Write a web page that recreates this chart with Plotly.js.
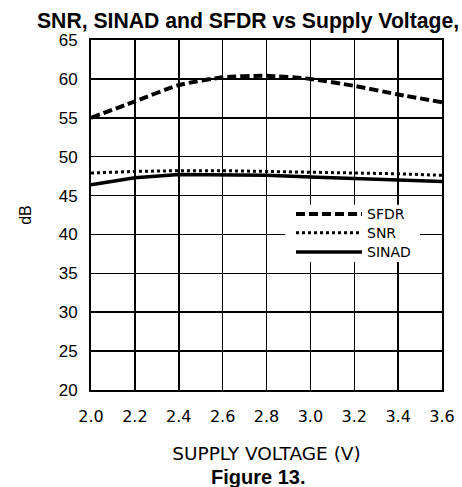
<!DOCTYPE html>
<html>
<head>
<meta charset="utf-8">
<script src="https://cdn.plot.ly/plotly-3.0.1.min.js"></script>
<style>html,body{margin:0;padding:0;background:#fff;}#chart{width:462px;height:487px;}</style>
</head>
<body>
<div id="chart"></div>
<script>
var supplyVoltage = [2.0, 2.2, 2.4, 2.6, 2.8, 3.0, 3.2, 3.4, 3.6];
var sfdr  = [55.0, 57.1, 59.2, 60.2, 60.4, 60.0, 59.1, 58.0, 57.0];
var snr   = [47.9, 48.1, 48.2, 48.2, 48.1, 48.0, 47.9, 47.8, 47.6];
var sinad = [46.4, 47.3, 47.7, 47.7, 47.6, 47.4, 47.2, 47.0, 46.8];
var seriesNames = ['SFDR', 'SNR', 'SINAD'];
var xTickVals = [2.0, 2.2, 2.4, 2.6, 2.8, 3.0, 3.2, 3.4, 3.6];
var xTickText = ['2.0', '2.2', '2.4', '2.6', '2.8', '3.0', '3.2', '3.4', '3.6'];
var yTickVals = [20, 25, 30, 35, 40, 45, 50, 55, 60, 65];

var cadFont = 'DejaVu Sans, sans-serif';
var arial = 'Liberation Sans, Arial, sans-serif';

var lineStyles = [
  {color: '#000', width: 4, dash: '9px,4px'},
  {color: '#000', width: 3, dash: '3px,3px'},
  {color: '#000', width: 3.5, dash: 'solid'}
];
var seriesData = [sfdr, snr, sinad];

var traces = seriesData.map(function (ys, i) {
  var ln = Object.assign({}, lineStyles[i]);
  if (i === 0) { ln.shape = 'spline'; ln.smoothing = 0.6; }
  return {x: supplyVoltage, y: ys, name: seriesNames[i], mode: 'lines', line: ln, showlegend: false};
});

// custom legend box (inside plot, covering grid lines)
var shapes = [{type: 'rect', xref: 'paper', yref: 'paper', x0: 0.553, x1: 0.937, y0: 0.366, y1: 0.529,
               fillcolor: '#fff', line: {width: 0}, layer: 'above'}];
var annotations = [];
var rowY = [0.503, 0.449, 0.394];
seriesNames.forEach(function (nm, i) {
  shapes.push({type: 'line', xref: 'paper', yref: 'paper', x0: 0.584, x1: 0.772, y0: rowY[i], y1: rowY[i],
               line: lineStyles[i], layer: 'above'});
  annotations.push({text: nm, xref: 'paper', yref: 'paper', x: 0.783, y: rowY[i], xanchor: 'left', yanchor: 'middle',
                    showarrow: false, borderpad: 0, font: {family: cadFont, size: 14, color: '#000'}});
});
annotations.push({text: '<b>Figure 13.</b>', xref: 'paper', yref: 'paper', x: 0.476, y: -0.249,
                  xanchor: 'center', yanchor: 'middle', showarrow: false,
                  font: {family: arial, size: 20, color: '#000'}});

var layout = {
  width: 462, height: 487,
  margin: {l: 91, r: 20, t: 40, b: 97},
  paper_bgcolor: '#fff', plot_bgcolor: '#fff',
  showlegend: false,
  title: {text: 'SNR, SINAD and SFDR vs Supply Voltage,', font: {family: arial, size: 21.2, color: '#000', weight: 'bold'},
          x: 0.08, xanchor: 'left', xref: 'container', y: 0.958, yanchor: 'middle', yref: 'container'},
  xaxis: {range: [2.0, 3.6], tickvals: xTickVals, ticktext: xTickText,
          showgrid: true, gridcolor: '#000', gridwidth: 1.5,
          showline: true, linecolor: '#000', linewidth: 2, mirror: true,
          zeroline: false, ticks: '', ticklabelstandoff: 11,
          tickfont: {family: cadFont, size: 16, color: '#000'},
          title: {text: 'SUPPLY VOLTAGE (V)', font: {family: cadFont, size: 18.5, color: '#000'}, standoff: 22}},
  yaxis: {range: [20, 65], tickvals: yTickVals,
          showgrid: true, gridcolor: '#000', gridwidth: 1.5,
          showline: true, linecolor: '#000', linewidth: 2, mirror: true,
          zeroline: false, ticks: '', ticklabelstandoff: 8,
          tickfont: {family: arial, size: 17, color: '#000'},
          title: {text: 'dB', font: {family: arial, size: 16, color: '#000'}, standoff: 23}},
  shapes: shapes,
  annotations: annotations
};

Plotly.newPlot('chart', traces, layout, {displayModeBar: false, staticPlot: true});
</script>
</body>
</html>
